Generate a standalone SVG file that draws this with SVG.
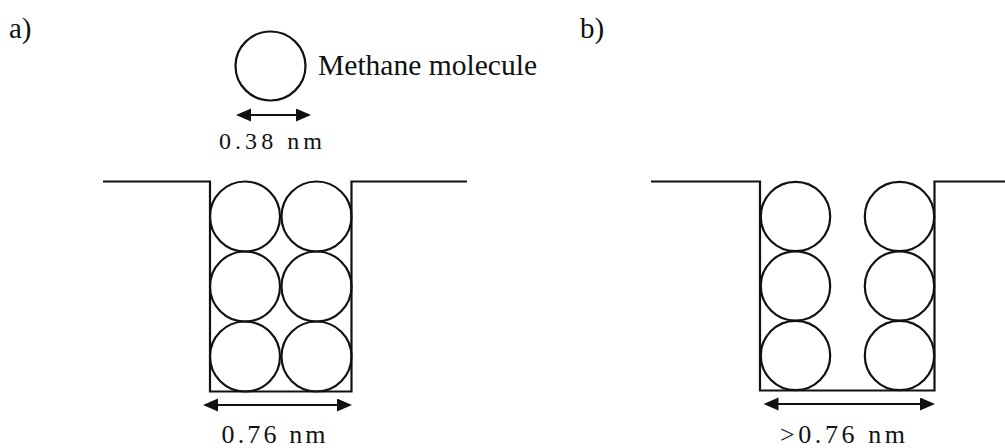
<svg xmlns="http://www.w3.org/2000/svg" width="1005" height="448" viewBox="0 0 1005 448">
  <style>
    .ln { fill: none; stroke: #111; stroke-width: 2.2; }
    .mol { fill: none; stroke: #111; stroke-width: 2.2; }
    .arr { fill: none; stroke: #111; stroke-width: 2; marker-start: url(#ah); marker-end: url(#ah); }
    .t { font-family: "Times New Roman", Times, "Liberation Serif", Tinos, "Nimbus Roman", "Noto Serif", "DejaVu Serif", serif; fill: #111; }
  </style>
  <defs>
    <marker id="ah" markerUnits="userSpaceOnUse" markerWidth="16" markerHeight="14" refX="5" refY="6.5" orient="auto-start-reverse" viewBox="0 0 16 14">
      <path d="M0,0 L15,6.5 L0,13 z" fill="#111"/>
    </marker>
  </defs>
  <rect width="1005" height="448" fill="#fff"/>

  <g id="label-a"><text class="t" x="9" y="38" font-size="29">a)</text></g>
  <g id="label-b"><text class="t" x="580" y="38" font-size="29">b)</text></g>

  <g id="methane-molecule">
    <ellipse class="mol" cx="270.5" cy="66" rx="35" ry="34.5"/>
    <text class="t" x="318" y="75" font-size="29" textLength="219" lengthAdjust="spacingAndGlyphs">Methane molecule</text>
    <text class="t" x="219" y="149" font-size="24" textLength="103" lengthAdjust="spacing">0.38 nm</text>
  </g>

  <g id="pore-a">
    <path class="ln" d="M103,181.5 H210 V391.5 H351.5 V181.5 H467"/>
    <g id="pore-a-molecules">
      <circle class="mol" cx="245" cy="216.5" r="35"/>
      <circle class="mol" cx="316.5" cy="216.5" r="35"/>
      <circle class="mol" cx="245" cy="286.5" r="35"/>
      <circle class="mol" cx="316.5" cy="286.5" r="35"/>
      <circle class="mol" cx="245" cy="356.5" r="35"/>
      <circle class="mol" cx="316.5" cy="356.5" r="35"/>
    </g>
    <text class="t" x="221.5" y="442.5" font-size="26" textLength="104" lengthAdjust="spacing">0.76 nm</text>
  </g>

  <g id="pore-b">
    <path class="ln" d="M651,181.5 H760 V390.5 H934.5 V181.5 H1005"/>
    <g id="pore-b-molecules">
      <circle class="mol" cx="795.5" cy="216.5" r="34.7"/>
      <circle class="mol" cx="899.5" cy="216.5" r="34.7"/>
      <circle class="mol" cx="795.5" cy="286" r="34.7"/>
      <circle class="mol" cx="899.5" cy="286" r="34.7"/>
      <circle class="mol" cx="795.5" cy="355.5" r="34.7"/>
      <circle class="mol" cx="899.5" cy="355.5" r="34.7"/>
    </g>
    <text class="t" x="780" y="442.5" font-size="26" textLength="125" lengthAdjust="spacing">&gt;0.76 nm</text>
  </g>

  <g id="connectors">
    <line class="arr" x1="246" y1="115" x2="301" y2="115"/>
    <line class="arr" x1="213" y1="405" x2="342" y2="405"/>
    <line class="arr" x1="773.5" y1="404" x2="925" y2="404"/>
  </g>
</svg>
